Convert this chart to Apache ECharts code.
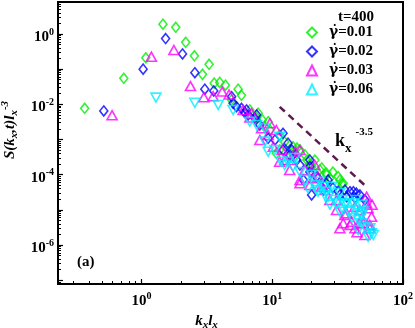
<!DOCTYPE html>
<html>
<head>
<meta charset="utf-8">
<script src="https://cdn.jsdelivr.net/npm/echarts@6/dist/echarts.min.js"></script>
<style>
html, body { margin: 0; padding: 0; background: #fff; }
#chart { width: 415px; height: 328px; }
</style>
</head>
<body>
<div id="chart"></div>
<script>
// legend names, one per shear rate
const rateNames = ['γ̇=0.01', 'γ̇=0.02', 'γ̇=0.03', 'γ̇=0.06'];

// [k_x l_x, S(k_x,t) l_x^-3]
const rate001 = [
  [0.368, 7.7e-3], [0.733, 5.5e-2], [1.08, 0.21], [1.46, 1.89], [1.83, 1.55],
  [2.18, 0.58], [2.54, 0.24], [3.29, 0.137], [2.93, 0.071], [3.6, 0.040],
  [3.97, 0.042], [4.39, 0.035], [5.48, 0.027], [5.82, 0.018], [4.89, 0.0133],
  [7.8, 5.6e-3], [7.6, 4.2e-3], [9.31, 3.21e-3], [8.78, 2.32e-3], [11.4, 1.34e-3],
  [11.4, 5.03e-4], [10.75, 4.06e-4], [16.3, 5.03e-4], [14.4, 2.92e-4], [14.4, 6.24e-4],
  [18.4, 2.61e-4], [19.4, 2.0e-4], [20.0, 1.69e-4], [23.1, 1.36e-4], [26.0, 9.8e-5],
  [26.0, 1.1e-4], [31.9, 8.75e-5], [34.9, 5.7e-5], [34.3, 5.3e-5],
  [12.45, 8.5e-4], [15.45, 5.73e-4], [17.8, 3.63e-4], [21.2, 2.61e-4], [23.9, 1.55e-4],
  [29.1, 1.19e-4], [32.9, 7.06e-5], [27.6, 8.0e-5], [6.74, 6.9e-3], [8.4, 3.6e-3],
  [9.6, 1.86e-3], [13.6, 5.03e-4]
];
const rate002 = [
  [0.515, 6.5e-3], [1.03, 0.10], [1.53, 0.74], [2.06, 0.27], [2.56, 0.079],
  [3.05, 0.027], [3.57, 0.024], [4.89, 0.0165], [5.02, 0.0107], [5.33, 8.55e-3],
  [5.82, 7.7e-3], [6.15, 5.9e-3], [6.36, 6.9e-3], [6.54, 4.98e-3], [7.6, 5.0e-3],
  [7.36, 4.01e-3], [8.04, 2.59e-3], [9.31, 1.08e-3], [12.1, 1.5e-3], [13.2, 7.83e-4],
  [12.1, 5.03e-4], [15.4, 2.61e-4], [19.4, 2.61e-4], [17.3, 7.06e-5], [19.4, 1.69e-4],
  [21.8, 8.75e-5], [24.5, 3.67e-5], [26.0, 5.7e-5], [32.9, 2.65e-5], [39.3, 3.28e-5],
  [41.7, 3.28e-5], [46.8, 2.65e-5], [37.1, 2.37e-5], [20.0, 2.65e-5], [44.0, 3.0e-5],
  [10.5, 9.7e-4], [14.1, 5.03e-4], [16.3, 1.88e-4], [22.4, 8.0e-5], [29.1, 4.2e-5],
  [35.9, 3.67e-5], [51.1, 1.91e-5], [31.9, 3.4e-5], [42.9, 2.2e-5], [26.7, 7.06e-5],
  [19.4, 1.19e-4], [13.6, 3.63e-4]
];
const rate003 = [
  [0.596, 4.9e-3], [1.19, 0.226], [1.77, 0.35], [2.37, 0.033], [3.0, 0.016],
  [3.53, 0.017], [4.14, 0.023], [4.68, 0.019], [5.99, 6.9e-3], [6.95, 5.6e-3],
  [6.74, 4.2e-3], [8.04, 9.7e-4], [8.29, 2.08e-3], [9.6, 2.9e-3], [10.75, 1.86e-3],
  [10.2, 6.24e-4], [11.4, 2.34e-4], [12.45, 2.61e-4], [14.0, 2.61e-4], [15.0, 4.5e-4],
  [16.3, 5.03e-4], [16.3, 7.06e-5], [16.3, 5.7e-5], [20.6, 7.9e-5], [22.4, 8.75e-5],
  [23.8, 4.55e-5], [31.0, 1.91e-5], [31.0, 9.9e-6], [34.9, 4.15e-6], [37.1, 8.0e-6],
  [40.5, 4.6e-6], [42.9, 1.23e-5], [46.8, 9.9e-6], [52.7, 2.37e-5], [52.7, 1.54e-5],
  [54.1, 1.11e-5], [46.8, 4.15e-6], [49.6, 4.15e-6], [55.8, 3.7e-6], [39.3, 3.7e-6],
  [42.9, 2.98e-6], [51.1, 1.93e-6], [57.5, 6.4e-6], [55.8, 2.98e-6],
  [11.9, 5.03e-4], [13.6, 1.36e-4], [17.8, 1.36e-4], [19.4, 5.1e-5], [25.2, 3.67e-5],
  [27.6, 1.91e-5], [35.9, 7.2e-6], [32.9, 3.0e-6], [44.5, 2.3e-6], [48.5, 5.9e-6],
  [58.0, 1.4e-5], [21.2, 1.88e-4], [9.3, 1.34e-3]
];
const rate006 = [
  [1.29, 0.0155], [2.56, 0.011], [3.86, 9.6e-3], [5.02, 6.9e-3], [6.74, 3.21e-3],
  [7.6, 2.59e-3], [8.78, 2.08e-3], [8.78, 8.7e-4], [9.31, 4.5e-4], [11.4, 1.2e-3],
  [11.7, 2.34e-4], [13.2, 2.34e-4], [14.4, 1.69e-4], [18.8, 4.1e-5], [20.0, 9.8e-5],
  [23.1, 6.3e-5], [21.8, 3.67e-5], [22.4, 3.28e-5], [24.5, 4.55e-5], [26.0, 3.28e-5],
  [26.8, 2.37e-5], [28.5, 4.55e-5], [30.1, 1.91e-5], [31.0, 1.54e-5], [32.9, 3.0e-5],
  [34.3, 1.91e-5], [34.9, 9.9e-6], [37.1, 1.54e-5], [39.3, 8.9e-6], [41.7, 1.54e-5],
  [42.9, 9.9e-6], [45.4, 5.14e-6], [46.8, 8.0e-6], [48.3, 4.15e-6], [48.3, 7.0e-6],
  [49.6, 8.9e-6], [51.1, 3.3e-6], [55.8, 2.98e-6], [57.5, 2.15e-6], [59.2, 1.93e-6],
  [10.5, 5.03e-4], [16.3, 1.19e-4], [17.8, 7.06e-5], [21.2, 5.1e-5], [25.2, 2.65e-5],
  [27.6, 1.4e-5], [35.9, 1.4e-5], [40.7, 5.9e-6], [45.4, 2.67e-6], [54.1, 1.7e-6],
  [32.9, 8.8e-6], [43.7, 1.91e-5], [48.5, 1.4e-5], [12.45, 1.88e-4], [15.0, 2.97e-4]
];
// guide line k_x^-3.5
const guideLine = [[11.4, 8.5e-3], [51, 5.0e-5]];

// axis ticks
const xLabelTicks = [1, 10, 100];
const xMajorTicks = [0.1, 1, 10, 100];
const yLabelTicks = [1e-6, 1e-4, 1e-2, 1];
const yMajorTicks = [1e-7, 1e-6, 1e-5, 1e-4, 1e-3, 1e-2, 1e-1, 1];
const xRange = [0.23, 100];
const yRange = [7.8e-8, 8.1];

function minorTicks(lo, hi) {
  const out = [];
  for (let e = lo; e <= hi; e++) {
    for (let m = 2; m <= 9; m++) out.push(+(m * Math.pow(10, e)).toPrecision(3));
  }
  return out;
}

const serif = 'Liberation Serif';
const powRich = {
  b: { fontFamily: serif, fontWeight: 'bold', fontSize: 15, lineHeight: 20, color: '#000' },
  s: { fontFamily: serif, fontWeight: 'bold', fontSize: 10, lineHeight: 8, verticalAlign: 'top', color: '#000' }
};
function powLabel(v) {
  return '{b|10}{s|' + Math.round(Math.log10(v)) + '}';
}
const nameRich = {
  i: { fontFamily: serif, fontWeight: 'bold', fontStyle: 'italic', fontSize: 15, lineHeight: 20, color: '#000' },
  sub: { fontFamily: serif, fontWeight: 'bold', fontStyle: 'italic', fontSize: 11, lineHeight: 9, verticalAlign: 'bottom', color: '#000' },
  sup: { fontFamily: serif, fontWeight: 'bold', fontStyle: 'italic', fontSize: 11, lineHeight: 8, verticalAlign: 'top', color: '#000' }
};

const chart = echarts.init(document.getElementById('chart'));

function dots(name, data, symbol, color, rotate) {
  return {
    name: name,
    type: 'scatter',
    data: data,
    symbol: symbol,
    symbolSize: symbol === 'diamond' ? [8, 10] : [10, 9],
    symbolRotate: rotate || 0,
    itemStyle: { color: 'rgba(0,0,0,0)', borderColor: color, borderWidth: 1.6 },
    emphasis: { disabled: true }
  };
}

const option = {
  animation: false,
  grid: {
    left: 58, right: 12, top: 2, bottom: 44,
    outerBoundsMode: 'none', containLabel: false,
    show: true, borderColor: '#000', borderWidth: 2
  },
  title: {
    text: 't=400', left: 333, top: 5,
    textStyle: { fontFamily: serif, fontWeight: 'bold', fontSize: 15, color: '#000' }
  },
  legend: {
    data: rateNames,
    orient: 'vertical',
    left: 306, top: 25,
    padding: 0,
    itemWidth: 10, itemHeight: 10, itemGap: 4,
    formatter: function (name) {
      return '{g|' + name.slice(0, 2) + '}{t|' + name.slice(2) + '}';
    },
    textStyle: {
      padding: [0, 0, 0, 7],
      rich: {
        g: { fontFamily: 'DejaVu Serif', fontWeight: 'bold', fontSize: 14, lineHeight: 15, color: '#000' },
        t: { fontFamily: serif, fontWeight: 'bold', fontSize: 15, lineHeight: 15, color: '#000' }
      }
    }
  },
  xAxis: [
    {
      type: 'log', logBase: 10, min: xRange[0], max: xRange[1], position: 'bottom',
      name: '{i|k}{sub|x}{i|l}{sub|x}', nameLocation: 'middle', nameGap: 24,
      nameTextStyle: { rich: nameRich, padding: [0, 48, 0, 0] },
      axisLine: { lineStyle: { color: '#000', width: 2 } },
      axisTick: { inside: true, length: 5, customValues: xMajorTicks, lineStyle: { color: '#000', width: 1.2 } },
      axisLabel: { customValues: xLabelTicks, margin: 7, formatter: powLabel, rich: powRich },
      splitLine: { show: false }
    },
    {
      type: 'log', logBase: 10, min: xRange[0], max: xRange[1], position: 'bottom',
      axisLine: { show: false },
      axisTick: { inside: true, length: 3, customValues: minorTicks(-1, 1), lineStyle: { color: '#000', width: 1 } },
      axisLabel: { show: false },
      splitLine: { show: false }
    }
  ],
  yAxis: [
    {
      type: 'log', logBase: 10, min: yRange[0], max: yRange[1], position: 'left',
      name: '{i|S(k}{sub|x}{i|,t)l}{sub|x}{sup|-3}', nameLocation: 'middle', nameGap: 32, nameRotate: 90,
      nameTextStyle: { rich: nameRich, padding: [0, 0, 0, 26] },
      axisLine: { lineStyle: { color: '#000', width: 2 } },
      axisTick: { inside: true, length: 5, customValues: yMajorTicks, lineStyle: { color: '#000', width: 1.2 } },
      axisLabel: { customValues: yLabelTicks, margin: 4, padding: [6, 0, 0, 0], formatter: powLabel, rich: powRich },
      splitLine: { show: false }
    },
    {
      type: 'log', logBase: 10, min: yRange[0], max: yRange[1], position: 'left',
      axisLine: { show: false },
      axisTick: { inside: true, length: 3, customValues: minorTicks(-8, 0), lineStyle: { color: '#000', width: 1 } },
      axisLabel: { show: false },
      splitLine: { show: false }
    }
  ],
  graphic: [
    {
      type: 'text', left: 77, top: 255,
      style: { text: '(a)', fontFamily: serif, fontWeight: 'bold', fontSize: 15, fill: '#000' }
    },
    {
      type: 'text', x: 335, y: 141,
      style: {
        text: '{k|k}{sub|x}{sup|-3.5}',
        align: 'left', verticalAlign: 'middle',
        rich: {
          k: { fontFamily: serif, fontWeight: 'bold', fontSize: 18, lineHeight: 28, fill: '#000' },
          sub: { fontFamily: serif, fontWeight: 'bold', fontSize: 13, lineHeight: 10, verticalAlign: 'bottom', fill: '#000' },
          sup: { fontFamily: serif, fontWeight: 'bold', fontSize: 11, lineHeight: 8, verticalAlign: 'top', fill: '#000', padding: [0, 0, 0, 4] }
        }
      }
    }
  ],
  series: [
    dots(rateNames[0], rate001, 'diamond', '#00ee00'),
    dots(rateNames[1], rate002, 'diamond', '#0000ff'),
    dots(rateNames[2], rate003, 'triangle', '#ff00ff'),
    dots(rateNames[3], rate006, 'triangle', '#00eeff', 180),
    {
      name: 'guide',
      type: 'line',
      data: guideLine,
      symbol: 'none',
      lineStyle: { color: '#5e1a4c', width: 2.5, type: [7, 5] },
      emphasis: { disabled: true },
      silent: true
    }
  ]
};

chart.setOption(option);
</script>
</body>
</html>
